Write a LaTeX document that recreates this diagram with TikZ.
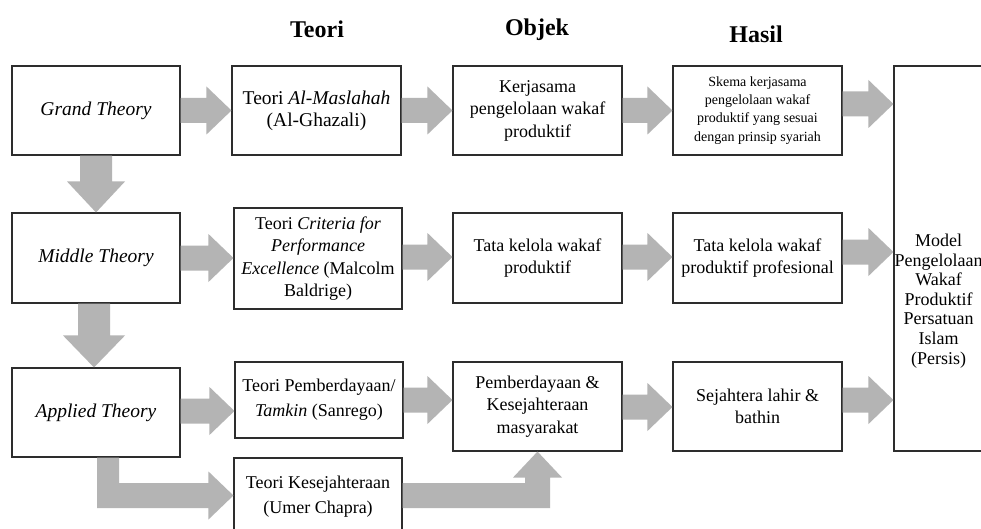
\documentclass[tikz,border=0pt]{standalone}
\usepackage{fontspec}
\setmainfont{Liberation Serif}
\usetikzlibrary{calc}
\definecolor{arrowgray}{RGB}{180,180,180}
\definecolor{boxline}{RGB}{45,45,45}
\tikzset{
  box/.style={draw=boxline, line width=1.1pt, fill=white, inner sep=0pt, align=center,
    font=\fontsize{18}{22.5}\selectfont},
  bigbox/.style={box, font=\fontsize{19.5}{22}\selectfont},
  loosebox/.style={box, font=\fontsize{18}{25}\selectfont},
  smallbox/.style={box, font=\fontsize{14}{18.3}\selectfont},
  modeltext/.style={inner sep=0pt, align=center, font=\fontsize{18}{19.6}\selectfont},
  header/.style={inner sep=0pt, font=\fontsize{24}{28}\selectfont\bfseries},
  arrowfill/.style={fill=arrowgray, draw=none}
}
% horizontal block arrow: source, target, y of axis
\newcommand\harr[3]{%
  \fill[arrowfill] ($(#1.east |- 0,#3)+(0,-12.5)$) -- ($(#2.west |- 0,#3)+(-25,-12.5)$)
    -- ($(#2.west |- 0,#3)+(-25,-24)$) -- (#2.west |- 0,#3)
    -- ($(#2.west |- 0,#3)+(-25,24)$) -- ($(#2.west |- 0,#3)+(-25,12.5)$)
    -- ($(#1.east |- 0,#3)+(0,12.5)$) -- cycle;}
% vertical block arrow: source, target, x of axis, shaft half, head half, head length
\newcommand\varr[6]{%
  \fill[arrowfill] ($(#3,0 |- #1.south)+(-#4,0)$) -- ($(#3,0 |- #2.north)+(-#4,-#6)$)
    -- ($(#3,0 |- #2.north)+(-#5,-#6)$) -- (#3,0 |- #2.north)
    -- ($(#3,0 |- #2.north)+(#5,-#6)$) -- ($(#3,0 |- #2.north)+(#4,-#6)$)
    -- ($(#3,0 |- #1.south)+(#4,0)$) -- cycle;}
\begin{document}
\begin{tikzpicture}[x=1pt, y=-1pt]
\useasboundingbox (0,0) rectangle (981,529);
\clip (0,0) rectangle (981,529);
\fill[white] (0,0) rectangle (981,529);

% headers
\node[header] (hteori) at (317,29) {Teori};
\node[header] (hobjek) at (537,30) {Objek};
\node[header] (hhasil) at (756,34) {Hasil};

% left column
\node[bigbox, minimum width=168, minimum height=89] (grand) at (96,110.5) {\textit{Grand Theory}};
\node[bigbox, minimum width=168, minimum height=90] (middle) at (96,258) {\textit{Middle Theory}};
\node[bigbox, minimum width=168, minimum height=89] (applied) at (96,412.5) {\textit{Applied Theory}};

% teori column
\node[bigbox, minimum width=169, minimum height=89] (maslahah) at (316.5,110.5) {Teori \textit{Al-Maslahah}\\(Al-Ghazali)};
\node[box, minimum width=168, minimum height=101] (criteria) at (318,258.5) {Teori \textit{Criteria for}\\\textit{Performance}\\\textit{Excellence} (Malcolm\\Baldrige)};
\node[loosebox, minimum width=168, minimum height=76] (pemb) at (319,400) {Teori Pemberdayaan/\\\textit{Tamkin} (Sanrego)};
\node[loosebox, minimum width=168, minimum height=78] (kesej) at (318,497) {Teori Kesejahteraan\\(Umer Chapra)};

% objek column
\node[box, minimum width=169, minimum height=89] (kerja) at (537.5,110.5) {Kerjasama\\pengelolaan wakaf\\produktif};
\node[box, minimum width=169, minimum height=90] (tata) at (537.5,258) {Tata kelola wakaf\\produktif};
\node[box, minimum width=169, minimum height=89] (pk) at (537.5,406.5) {Pemberdayaan \&\\Kesejahteraan\\masyarakat};

% hasil column
\node[smallbox, minimum width=169, minimum height=89] (skema) at (757.5,110.5) {Skema kerjasama\\pengelolaan wakaf\\produktif yang sesuai\\dengan prinsip syariah};
\node[box, minimum width=169, minimum height=90] (tataprof) at (757.5,258) {Tata kelola wakaf\\produktif profesional};
\node[box, minimum width=169, minimum height=89] (sejahtera) at (757.5,406.5) {Sejahtera lahir \&\\bathin};

% model
\node[box, minimum width=89, minimum height=385] (model) at (938.5,258.5) {};
\node[modeltext] (modeltxt) at (938.5,301) {Model\\Pengelolaan\\Wakaf\\Produktif\\Persatuan\\Islam\\(Persis)};

% row arrows
\harr{grand}{maslahah}{110.5}
\harr{maslahah}{kerja}{110.5}
\harr{kerja}{skema}{110.5}
\harr{skema}{model}{104}
\harr{middle}{criteria}{258}
\harr{criteria}{tata}{257}
\harr{tata}{tataprof}{257}
\harr{tataprof}{model}{252}
\harr{applied}{pemb}{411}
\harr{pemb}{pk}{400}
\harr{pk}{sejahtera}{407}
\harr{sejahtera}{model}{400}

% vertical arrows
\varr{grand}{middle}{96}{16}{29}{31}
\varr{middle}{applied}{94}{16}{31}{32}

% L-shaped arrow: applied -> kesej
\fill[arrowfill] (97,0 |- applied.south) -- (97,508) -- ($(kesej.west |- 0,495.5)+(-25,12.5)$)
  -- ($(kesej.west |- 0,495.5)+(-25,24)$) -- (kesej.west |- 0,495.5)
  -- ($(kesej.west |- 0,495.5)+(-25,-24)$) -- ($(kesej.west |- 0,495.5)+(-25,-12.5)$)
  -- (119,483) -- (119,0 |- applied.south) -- cycle;

% L-shaped arrow: kesej -> pk
\fill[arrowfill] (kesej.east |- 0,483) -- (525,483) -- ($(537.5,0 |- pk.south)+(-12.5,26)$)
  -- ($(537.5,0 |- pk.south)+(-24.5,26)$) -- (537.5,0 |- pk.south)
  -- ($(537.5,0 |- pk.south)+(24.5,26)$) -- ($(537.5,0 |- pk.south)+(12.5,26)$)
  -- (550,508) -- (kesej.east |- 0,508) -- cycle;
\end{tikzpicture}
\end{document}
